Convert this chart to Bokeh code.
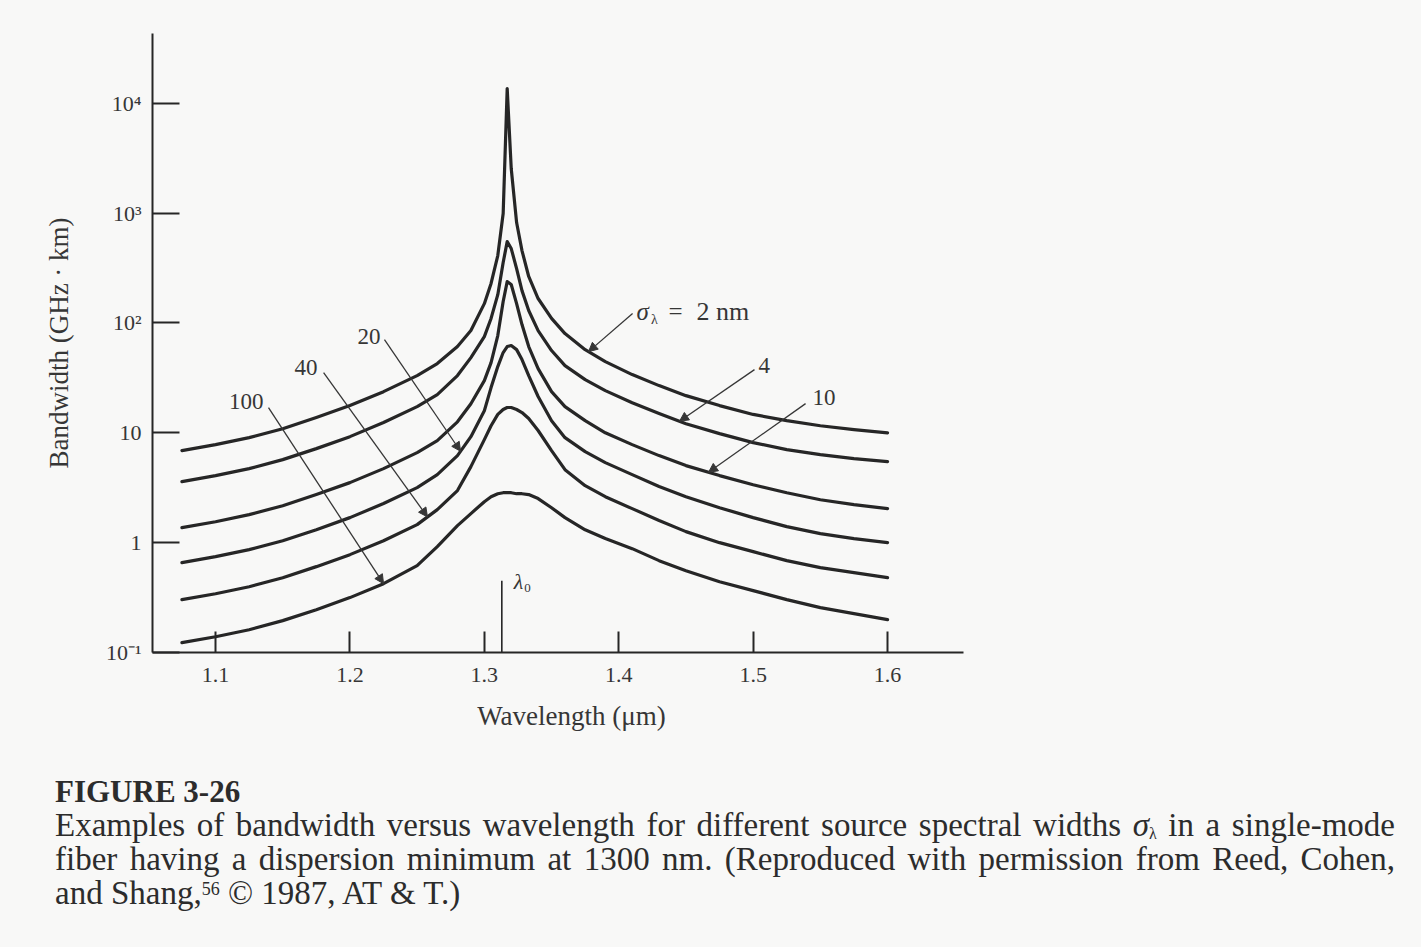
import numpy as np
from bokeh.plotting import figure
from bokeh.models import Range1d, FixedTicker, Label, Arrow, NormalHead, Div
from bokeh.layouts import column
from bokeh.embed import file_html
from bokeh.resources import INLINE

SERIF = "Liberation Serif"
INK = "#262626"
TEXT = "#363636"
PAPER = "#f8f8f7"

# Wavelength samples (um) shared by all curves
wavelength_um = [1.075, 1.10, 1.125, 1.15, 1.175, 1.20, 1.225, 1.25, 1.265, 1.28,
                 1.29, 1.30, 1.305, 1.31, 1.314, 1.317, 1.320, 1.324, 1.328,
                 1.333, 1.34, 1.35, 1.36, 1.375, 1.39, 1.41, 1.43, 1.45,
                 1.475, 1.50, 1.525, 1.55, 1.575, 1.60]

# Bandwidth (GHz km) for each source spectral width sigma_lambda
bw_2nm = [6.89, 7.81, 9.04, 10.9, 13.8, 17.7, 23.7, 33.2, 42.7, 61.0,
          85.3, 150, 229, 411, 992, 13600, 2550, 821, 456,
          265, 167, 110, 80.1, 57.2, 44.5, 33.9, 26.9, 21.8,
          17.7, 14.7, 12.9, 11.6, 10.7, 10.0]
bw_4nm = [3.59, 4.08, 4.72, 5.70, 7.18, 9.23, 12.4, 17.3, 22.3, 33.2,
          48.4, 75.2, 110, 181, 355, 551, 476, 313, 197,
          130, 85.3, 56.1, 40.9, 30.5, 24.2, 18.8, 15.0, 12.1,
          9.83, 8.14, 7.03, 6.33, 5.82, 5.47]
bw_10nm = [1.37, 1.55, 1.80, 2.17, 2.74, 3.52, 4.72, 6.60, 8.49, 12.6,
           18.4, 29.9, 43.6, 76.8, 157, 238, 224, 150, 96.7,
           61.0, 38.4, 23.7, 17.3, 12.9, 10.0, 7.81, 6.20, 5.03,
           4.08, 3.37, 2.85, 2.46, 2.22, 2.04]
bw_20nm = [0.657, 0.746, 0.864, 1.04, 1.31, 1.69, 2.27, 3.17, 4.16, 6.20,
           9.23, 15.9, 25.8, 40.1, 53.8, 61.0, 62.3, 57.2, 46.4,
           33.2, 21.4, 12.9, 9.04, 6.74, 5.35, 4.16, 3.24, 2.62,
           2.08, 1.69, 1.40, 1.21, 1.09, 1.00]
bw_40nm = [0.303, 0.343, 0.397, 0.480, 0.605, 0.778, 1.04, 1.46, 2.00, 2.98,
           4.92, 8.67, 11.6, 14.7, 16.3, 17.0, 17.0, 16.3, 15.3,
           13.5, 10.5, 6.89, 4.62, 3.30, 2.62, 2.04, 1.59, 1.26,
           1.00, 0.828, 0.686, 0.592, 0.533, 0.480]
bw_100nm = [0.123, 0.139, 0.161, 0.195, 0.245, 0.316, 0.423, 0.617, 0.920, 1.43,
            1.84, 2.36, 2.62, 2.79, 2.85, 2.85, 2.85, 2.79, 2.79,
            2.74, 2.52, 2.08, 1.69, 1.31, 1.09, 0.882, 0.686, 0.556,
            0.441, 0.366, 0.303, 0.256, 0.226, 0.199]

x_ticks = [1.1, 1.2, 1.3, 1.4, 1.5, 1.6]
y_ticks = [0.1, 1.0, 10.0, 100.0, 1000.0, 10000.0]
y_tick_labels = ["10\u207b\u00b9", "1", "10", "10\u00b2", "10\u00b3", "10\u2074"]

lambda0_um = 1.313      # dispersion-minimum marker
lambda0_mark_top = 0.45


def on_curve(lam, curve):
    """Bandwidth of a curve at wavelength lam (log-linear between samples)."""
    return float(10 ** np.interp(lam, wavelength_um, np.log10(curve)))


p = figure(frame_width=811, frame_height=619,
           x_range=Range1d(1.0531, 1.6565), y_range=Range1d(0.1, 43200),
           y_axis_type="log", output_backend="svg", toolbar_location=None,
           min_border_left=152, min_border_right=458, min_border_top=33,
           min_border_bottom=108, background_fill_color=PAPER,
           border_fill_color=PAPER, outline_line_color=None)
p.grid.visible = False

for ax in (p.xaxis[0], p.yaxis[0]):
    ax.axis_line_width = 2
    ax.axis_line_color = INK
    ax.major_tick_line_width = 2
    ax.major_tick_line_color = INK
    ax.major_tick_out = 0
    ax.minor_tick_line_color = None
    ax.major_label_text_font = SERIF
    ax.major_label_text_color = TEXT
    ax.major_label_text_font_size = "22px"
    ax.axis_label_text_font = SERIF
    ax.axis_label_text_font_style = "normal"
    ax.axis_label_text_color = TEXT

p.xaxis.ticker = FixedTicker(ticks=x_ticks)
p.xaxis.major_tick_in = 21
p.xaxis.major_label_standoff = 15
# leading no-break spaces nudge the title a little right of the frame centre
p.xaxis.axis_label = "\u00a0\u00a0\u00a0\u00a0Wavelength (\u03bcm)"
p.xaxis.axis_label_text_font_size = "27px"
p.xaxis.axis_label_standoff = 16

p.yaxis.ticker = FixedTicker(ticks=y_ticks)
p.yaxis.major_tick_in = 27
p.yaxis.major_label_standoff = 11
p.yaxis.major_label_overrides = dict(zip(y_ticks, y_tick_labels))
p.yaxis.axis_label = "Bandwidth (GHz \u00b7 km)"
p.yaxis.axis_label_text_font_size = "27px"
p.yaxis.axis_label_standoff = 29

# bandwidth curves
for curve in (bw_2nm, bw_4nm, bw_10nm, bw_20nm, bw_40nm, bw_100nm):
    p.line(wavelength_um, curve, line_width=3.2, line_color=INK,
           line_join="round", line_cap="round")

# lambda_0 marker
p.segment(x0=[lambda0_um], y0=[0.1], x1=[lambda0_um], y1=[lambda0_mark_top],
          line_width=1.6, line_color=INK)
p.add_layout(Label(x=1.3254, y=0.441, text="\u03bb", text_font=SERIF,
                   text_font_style="italic", text_font_size="22px",
                   text_color=TEXT, text_align="center", text_baseline="middle"))
p.add_layout(Label(x=1.3321, y=0.385, text="0", text_font=SERIF,
                   text_font_size="13px", text_color=TEXT,
                   text_align="center", text_baseline="middle"))

# leader lines: text, text position, alignment, line start, tip wavelength, curve
leaders = [
    ("4", 1.5040, 40.9, "left", 1.5010, 37.6, 1.4452, bw_4nm),
    ("10", 1.5442, 20.9, "left", 1.5390, 18.45, 1.4668, bw_10nm),
    ("20", 1.2228, 75.2, "right", 1.2257, 70.6, 1.2823, bw_20nm),
    ("40", 1.1759, 39.3, "right", 1.1804, 35.3, 1.2577, bw_40nm),
    ("100", 1.1357, 19.2, "right", 1.1394, 16.96, 1.2250, bw_100nm),
    (None, None, None, None, 1.4103, 121.8, 1.3775, bw_2nm),
]
for text, tx, ty, align, sx, sy, tip, curve in leaders:
    p.add_layout(Arrow(x_start=sx, y_start=sy, x_end=tip, y_end=on_curve(tip, curve),
                       line_width=1.3, line_color=TEXT,
                       end=NormalHead(size=9, line_color=TEXT, fill_color=TEXT,
                                      line_width=1)))
    if text:
        p.add_layout(Label(x=tx, y=ty, text=text, text_font=SERIF,
                           text_font_size="23px", text_color=TEXT,
                           text_align=align, text_baseline="middle"))

# sigma_lambda = 2 nm
p.add_layout(Label(x=1.4177, y=127, text="\u03c3", text_font=SERIF,
                   text_font_style="italic", text_font_size="25px",
                   text_color=TEXT, text_align="center", text_baseline="middle"))
p.add_layout(Label(x=1.4266, y=107, text="\u03bb", text_font=SERIF,
                   text_font_size="14px", text_color=TEXT,
                   text_align="center", text_baseline="middle"))
p.add_layout(Label(x=1.4371, y=127, text="=", text_font=SERIF,
                   text_font_size="25px", text_color=TEXT,
                   text_align="left", text_baseline="middle"))
p.add_layout(Label(x=1.4579, y=127, text="2 nm", text_font=SERIF,
                   text_font_size="26px", text_color=TEXT,
                   text_align="left", text_baseline="middle"))

BODY = "font-size:33px;line-height:34px"
JUST = "text-align:justify;text-align-last:justify"
caption_html = (
    "<div style=\"font-family:'Liberation Serif',serif;color:#2c2c2c;"
    "width:1340px;margin-left:55px;padding-top:15px\">"
    "<div style=\"font-weight:bold;font-size:31px;line-height:33px\">FIGURE 3-26</div>"
    f"<div style=\"{BODY};{JUST}\">Examples of bandwidth versus wavelength for "
    "different source spectral widths <i>\u03c3</i><span style=\"font-size:16px;"
    "position:relative;top:3px;line-height:0\">\u03bb</span> in a single-mode</div>"
    f"<div style=\"{BODY};{JUST}\">fiber having a dispersion minimum at 1300 nm. "
    "(Reproduced with permission from Reed, Cohen,</div>"
    f"<div style=\"{BODY}\">and Shang,<span style=\"font-size:18px;position:relative;"
    "top:-9px;line-height:0\">56</span> \u00a9 1987, AT &amp; T.)</div>"
    "</div>"
)
caption = Div(text=caption_html, width=1421, height=187, margin=(0, 0, 0, 0),
              styles={"background-color": PAPER})

layout = column(p, caption, spacing=0, styles={"background-color": PAPER})

with open("out.html", "w") as f:
    f.write(file_html(layout, INLINE))
